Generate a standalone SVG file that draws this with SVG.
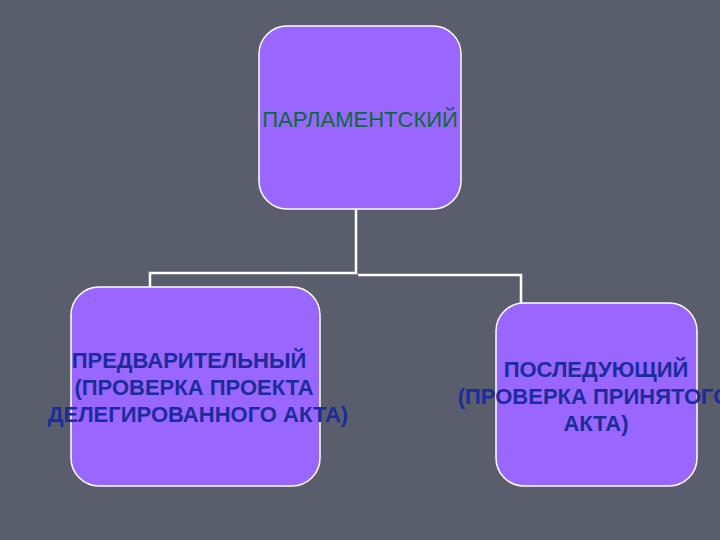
<svg xmlns="http://www.w3.org/2000/svg" width="720" height="540" viewBox="0 0 720 540">
<style>
.box{fill:#9966ff;stroke:#ffffff;stroke-width:1.5}
.conn{fill:none;stroke:#ffffff;stroke-width:2.5}
.top{font-family:"Liberation Sans",Arial,sans-serif;font-size:22px;fill:#0a6a3a;text-anchor:middle}
.lbl{font-family:"Liberation Sans",Arial,sans-serif;font-size:22px;font-weight:bold;fill:#1c2c9a;text-anchor:middle}
</style>
<rect x="0" y="0" width="720" height="540" fill="#5a5d6c"/>
<g id="connectors">
<path class="conn" d="M356 209 V273 H150 V287"/>
<path class="conn" d="M358 275 H521 V303"/>
</g>
<g id="node-parl">
<rect class="box" x="259" y="26" width="202" height="183" rx="28"/>
<text class="top" x="360" y="127">ПАРЛАМЕНТСКИЙ</text>
</g>
<g id="node-pre">
<rect class="box" x="71" y="287" width="249" height="199" rx="28"/>
<text class="lbl" x="189" y="368">ПРЕДВАРИТЕЛЬНЫЙ</text>
<text class="lbl" x="194" y="395">(ПРОВЕРКА ПРОЕКТА</text>
<text class="lbl" x="198" y="422">ДЕЛЕГИРОВАННОГО АКТА)</text>
</g>
<g id="node-post">
<rect class="box" x="496" y="303" width="201" height="183" rx="28"/>
<text class="lbl" x="596" y="377">ПОСЛЕДУЮЩИЙ</text>
<text class="lbl" x="594" y="404">(ПРОВЕРКА ПРИНЯТОГО</text>
<text class="lbl" x="596" y="431">АКТА)</text>
</g>
</svg>
